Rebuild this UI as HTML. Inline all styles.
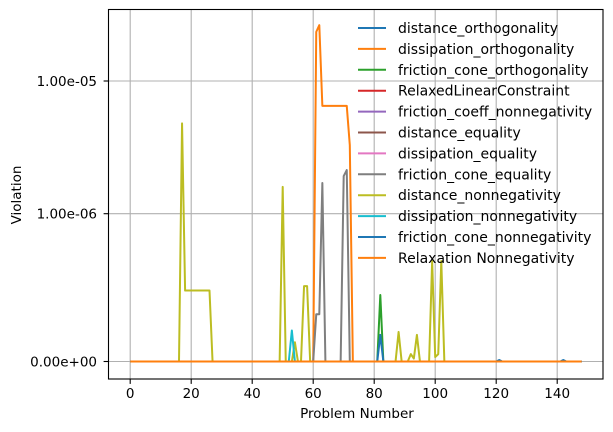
<!DOCTYPE html>
<html><head><meta charset="utf-8"><style>
body{margin:0;background:#fff;}
svg{display:block;font-family:"DejaVu Sans","Liberation Sans",sans-serif;}
</style></head><body>
<svg id="chart" width="613" height="432">
<rect x="0" y="0" width="613" height="432" fill="#fff"/>
<g id="grid"></g>
<g id="series"></g>
<g id="axes"></g>
<g id="legend"></g>
<text x="357" y="418" text-anchor="middle" font-size="13.5">Problem Number</text>
<text transform="translate(21,195) rotate(-90)" text-anchor="middle" font-size="13.5">Violation</text>
</svg>
<script>
const xTicks = [0,20,40,60,80,100,120,140];
const yTicks = [0,1e-6,1e-5];
const yTickLabels = ["0.00e+00","1.00e-06","1.00e-05"];
const seriesNames = ["distance_orthogonality","dissipation_orthogonality","friction_cone_orthogonality","RelaxedLinearConstraint","friction_coeff_nonnegativity","distance_equality","dissipation_equality","friction_cone_equality","distance_nonnegativity","dissipation_nonnegativity","friction_cone_nonnegativity","Relaxation Nonnegativity"];
const colors = ["#1f77b4","#ff7f0e","#2ca02c","#d62728","#9467bd","#8c564b","#e377c2","#7f7f7f","#bcbd22","#17becf","#1f77b4","#ff7f0e"];
const nPoints = 149;
// sparse nonzero entries (index, value)
const dissOrthIdx = [61,62,63,64,65,66,67,68,69,70,71,72];
const dissOrthVal = [23.4e-6,26.3e-6,6.5e-6,6.5e-6,6.5e-6,6.5e-6,6.5e-6,6.5e-6,6.5e-6,6.5e-6,6.5e-6,3.3e-6];
const fcOrthIdx = [82];
const fcOrthVal = [0.45e-6];
const fcEqIdx = [61,62,63,70,71];
const fcEqVal = [0.32e-6,0.32e-6,1.71e-6,1.93e-6,2.14e-6];
const distNonIdx = [17,18,19,20,21,22,23,24,25,26,50,54,57,58,88,92,93,94,99,100,101,102];
const distNonVal = [4.8e-6,0.48e-6,0.48e-6,0.48e-6,0.48e-6,0.48e-6,0.48e-6,0.48e-6,0.48e-6,0.48e-6,1.6e-6,0.13e-6,0.51e-6,0.51e-6,0.2e-6,0.05e-6,0.02e-6,0.18e-6,0.68e-6,0.03e-6,0.05e-6,0.68e-6];
const dissNonIdx = [53];
const dissNonVal = [0.21e-6];
const fcNonIdx = [82,121,142];
const fcNonVal = [0.18e-6,0.01e-6,0.01e-6];
const sparse = {1:[dissOrthIdx,dissOrthVal],2:[fcOrthIdx,fcOrthVal],7:[fcEqIdx,fcEqVal],8:[distNonIdx,distNonVal],9:[dissNonIdx,dissNonVal],10:[fcNonIdx,fcNonVal]};

const NS="http://www.w3.org/2000/svg";
const L=108.5,R=603,T=9.5,B=379;
function xs(v){return 130.2+v*3.05;}
function ys(v){
  if(v<=1e-6) return 361.5 - v/1e-6*147.8;
  return 214 - Math.log10(v/1e-6)*133;
}
function mk(tag,attrs,parent){const e=document.createElementNS(NS,tag);for(const k in attrs)e.setAttribute(k,attrs[k]);parent.appendChild(e);return e;}
const grid=document.getElementById('grid'),axes=document.getElementById('axes'),ser=document.getElementById('series'),leg=document.getElementById('legend');
xTicks.forEach(t=>{
  const x=xs(t);
  const g=mk('line',{x1:x,x2:x,y1:T,y2:B,stroke:'#b0b0b0','stroke-width':1.1},grid);
  
  
  mk('line',{x1:x,x2:x,y1:B,y2:B+4.9,stroke:'#000','stroke-width':1.1},axes);
  const tx=mk('text',{x:x,y:B+19,'text-anchor':'middle','font-size':13.5},axes);
  tx.textContent=t;
  
  
});
yTicks.forEach((t,i)=>{
  const y=ys(t);
  const g=mk('line',{x1:L,x2:R,y1:y,y2:y,stroke:'#b0b0b0','stroke-width':1.1},grid);
  
  
  mk('line',{x1:L-4.9,x2:L,y1:y,y2:y,stroke:'#000','stroke-width':1.1},axes);
  const tx=mk('text',{x:97,y:y+5,'text-anchor':'end','font-size':13.5},axes);
  tx.textContent=yTickLabels[i];
  
  
});
const frame=mk('rect',{x:L,y:T,width:R-L,height:B-T,fill:'none',stroke:'#000','stroke-width':1.1},axes);


seriesNames.forEach((name,si)=>{
  const vals=new Array(nPoints).fill(0);
  if(sparse[si]){sparse[si][0].forEach((ix,k)=>{vals[ix]=sparse[si][1][k];});}
  const pts=vals.map((v,i)=>xs(i).toFixed(2)+','+ys(v).toFixed(2)).join(' ');
  const p=mk('polyline',{points:pts,fill:'none',stroke:colors[si],'stroke-width':2,'stroke-linejoin':'round'},ser);
  
  
  const ly=28+si*20.9;
  const ll=mk('line',{x1:358,x2:386,y1:ly,y2:ly,stroke:colors[si],'stroke-width':2},leg);
  
  
  const lt=mk('text',{x:398,y:ly+5,'font-size':14},leg);
  lt.textContent=name;
  
  
});
</script>
</body></html>
